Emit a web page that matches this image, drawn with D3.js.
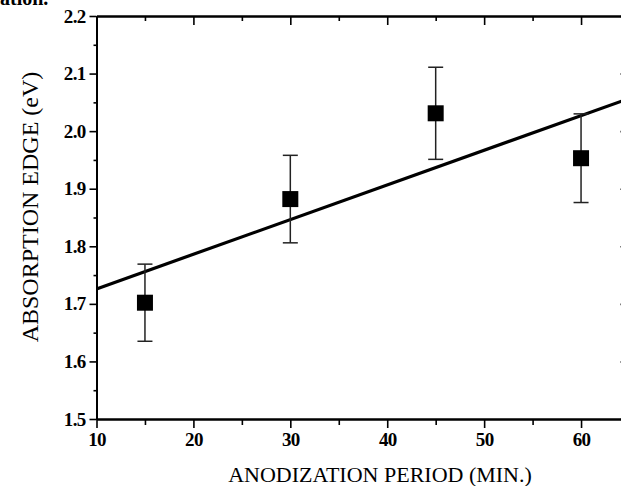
<!DOCTYPE html>
<html lang="en">
<head>
  <meta charset="utf-8">
  <title>Absorption edge vs anodization period</title>
  <script src="https://d3js.org/d3.v7.min.js"></script>
  <style>
    body { margin: 0; background: #fff; }
    svg { display: block; }
    .tick text { font-family: "Liberation Serif", serif; font-weight: bold; font-size: 19px; letter-spacing: -0.7px; fill: #000; }
    .title { font-family: "Liberation Serif", serif; font-size: 22px; fill: #000; }
  </style>
</head>
<body>
  <svg width="621" height="486"></svg>
  <script>
    // values
    const periods = [15, 30, 45, 60];
    const edges = [1.702, 1.882, 2.031, 1.953];
    const errors = [0.067, 0.076, 0.080, 0.077];
    const fitX = [10, 65];
    const fitY = [1.726, 2.057];
    const xMajor = [10, 20, 30, 40, 50, 60];
    const xMinor = [15, 25, 35, 45, 55, 65];
    const yMajor = [1.5, 1.6, 1.7, 1.8, 1.9, 2.0, 2.1, 2.2];
    const yMinor = [1.55, 1.65, 1.75, 1.85, 1.95, 2.05, 2.15];

    const svg = d3.select("svg");
    const x = d3.scaleLinear().domain([10, 65]).range([96.5, 629.5]);
    const y = d3.scaleLinear().domain([1.5, 2.2]).range([419, 16]);

    // caption fragment cut off at the top of the scan
    svg.append("text").attr("class", "title")
      .attr("x", 0).attr("y", 5)
      .style("font-weight", "bold").style("font-size", "20px")
      .text("ation.");

    function styleAxis(g) {
      g.selectAll("path, line").attr("stroke", "#000");
      g.select(".domain").attr("stroke-width", 2);
      g.selectAll(".tick line").attr("stroke-width", 1.6);
    }

    // bottom
    svg.append("g").attr("transform", `translate(0,${y(1.5)})`)
      .call(d3.axisBottom(x).tickValues(xMinor).tickSize(6).tickSizeOuter(0).tickFormat(""))
      .call(styleAxis);
    svg.append("g").attr("transform", `translate(0,${y(1.5)})`)
      .call(d3.axisBottom(x).tickValues(xMajor).tickSize(9).tickSizeOuter(0).tickPadding(5).tickFormat(d3.format("d")))
      .call(styleAxis);

    // top
    svg.append("g").attr("transform", `translate(0,${y(2.2)})`)
      .call(d3.axisTop(x).tickValues(xMinor).tickSize(-5).tickSizeOuter(0).tickFormat(""))
      .call(styleAxis);
    svg.append("g").attr("transform", `translate(0,${y(2.2)})`)
      .call(d3.axisTop(x).tickValues(xMajor).tickSize(-9).tickSizeOuter(0).tickFormat(""))
      .call(styleAxis);

    // left
    svg.append("g").attr("transform", `translate(${x(10)},0)`)
      .call(d3.axisLeft(y).tickValues(yMinor).tickSize(3).tickSizeOuter(0).tickFormat(""))
      .call(styleAxis);
    svg.append("g").attr("transform", `translate(${x(10)},0)`)
      .call(d3.axisLeft(y).tickValues(yMajor).tickSize(7).tickSizeOuter(0).tickPadding(4).tickFormat(d3.format(".1f")))
      .call(styleAxis);

    // right (mostly off the scan)
    svg.append("g").attr("transform", `translate(${x(65)},0)`)
      .call(d3.axisRight(y).tickValues(yMinor).tickSize(-5).tickSizeOuter(0).tickFormat(""))
      .call(styleAxis);
    svg.append("g").attr("transform", `translate(${x(65)},0)`)
      .call(d3.axisRight(y).tickValues(yMajor).tickSize(-9).tickSizeOuter(0).tickFormat(""))
      .call(styleAxis);

    // fit line
    svg.append("path")
      .datum(d3.zip(fitX, fitY))
      .attr("d", d3.line().x(d => x(d[0])).y(d => y(d[1])))
      .attr("fill", "none").attr("stroke", "#000").attr("stroke-width", 3.2);

    const pts = periods.map((p, i) => ({ p, v: edges[i], e: errors[i] }));
    const cap = 7.5;
    const bars = svg.append("g").attr("stroke", "#222").attr("stroke-width", 1.5);
    bars.selectAll("line.v").data(pts).join("line").attr("class", "v")
      .attr("x1", d => x(d.p)).attr("x2", d => x(d.p))
      .attr("y1", d => y(d.v - d.e)).attr("y2", d => y(d.v + d.e));
    bars.selectAll("line.t").data(pts).join("line").attr("class", "t")
      .attr("x1", d => x(d.p) - cap).attr("x2", d => x(d.p) + cap)
      .attr("y1", d => y(d.v + d.e)).attr("y2", d => y(d.v + d.e));
    bars.selectAll("line.b").data(pts).join("line").attr("class", "b")
      .attr("x1", d => x(d.p) - cap).attr("x2", d => x(d.p) + cap)
      .attr("y1", d => y(d.v - d.e)).attr("y2", d => y(d.v - d.e));

    const sq = 16;
    svg.append("g").selectAll("rect").data(pts).join("rect")
      .attr("x", d => x(d.p) - sq / 2).attr("y", d => y(d.v) - sq / 2)
      .attr("width", sq).attr("height", sq).attr("fill", "#000");

    svg.append("text").attr("class", "title")
      .attr("x", 380).attr("y", 482).attr("text-anchor", "middle")
      .text("ANODIZATION PERIOD (MIN.)");
    svg.append("text").attr("class", "title")
      .attr("transform", "translate(38,207) rotate(-90)").attr("text-anchor", "middle")
      .style("font-size", "24px")
      .text("ABSORPTION EDGE (eV)");
  </script>
</body>
</html>
